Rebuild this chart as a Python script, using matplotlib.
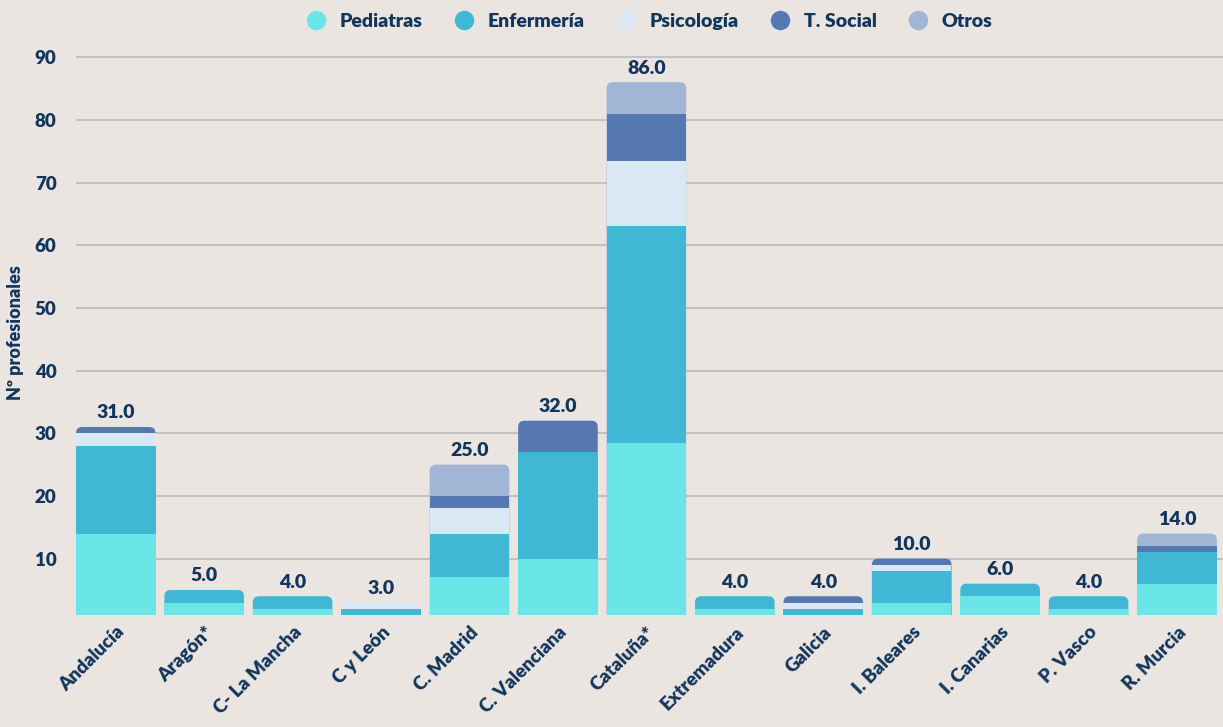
import numpy as np
import matplotlib.pyplot as plt
from matplotlib.patches import FancyBboxPatch
from matplotlib.lines import Line2D

# regions and values per professional group
regions = ["Andalucía", "Aragón*", "C- La Mancha", "C y León", "C. Madrid",
           "C. Valenciana", "Cataluña*", "Extremadura", "Galicia",
           "I. Baleares", "I. Canarias", "P. Vasco", "R. Murcia"]
pediatras  = [14, 3, 2, 0, 7, 10, 28.5, 2, 0, 3, 4, 2, 6]
enfermeria = [14, 2, 2, 2, 7, 17, 34.5, 2, 2, 5, 2, 2, 5]
psicologia = [2, 0, 0, 1, 4, 0, 10.5, 0, 1, 1, 0, 0, 0]
t_social   = [1, 0, 0, 0, 2, 5, 7.5, 0, 1, 1, 0, 0, 1]
otros      = [0, 0, 0, 0, 5, 0, 5, 0, 0, 0, 0, 0, 2]

series_names = ["Pediatras", "Enfermería", "Psicología", "T. Social", "Otros"]
colors = ["#6AE5E8", "#41B7D6", "#DAE8F6", "#5678B2", "#A1B5D4"]

BG = "#EAE5E0"
NAVY = "#12355B"
FONT = "Lato"
WEIGHT = "heavy"

data = np.array([pediatras, enfermeria, psicologia, t_social, otros], dtype=float)
totals = data.sum(axis=0)

fig = plt.figure(figsize=(12.23, 7.27), dpi=100, facecolor=BG)
ax = fig.add_axes([0.0621, 0.154, 0.9379, 0.776])
ax.set_facecolor(BG)

x = np.arange(len(regions))
width = 0.9

# rounded "shell" for each bar, coloured like its top segment
xr = 0.07            # corner radius in x data units
aspect = 14.0        # converts x radius to y units
top_of = [max(k for k in range(5) if data[k, i] > 0) for i in x]
for i in x:
    patch = FancyBboxPatch((i - width / 2, 0), width, totals[i],
                           boxstyle=f"round,pad=0,rounding_size={xr}",
                           mutation_aspect=aspect,
                           facecolor=colors[top_of[i]], edgecolor="none",
                           zorder=3)
    ax.add_patch(patch)

bottom = np.zeros(len(regions))
for k in range(5):
    vals = np.where(np.array(top_of) == k, 0, data[k])
    ax.bar(x, vals, width, bottom=bottom, color=colors[k], edgecolor="none",
           zorder=4)
    bottom += data[k]

for i in x:
    ax.text(i, totals[i] + 0.9, f"{totals[i]:.1f}", ha="center", va="bottom",
            fontsize=14, fontweight=WEIGHT, color=NAVY, family=FONT,
            zorder=5)

ax.set_ylim(1, 91)
ax.set_xlim(-0.45, 12.52)
ax.set_yticks(np.arange(10, 91, 10))
ax.yaxis.grid(True, color="#BFC0C0", linewidth=1.4, zorder=0)
ax.set_axisbelow(True)
for s in ax.spines.values():
    s.set_visible(False)
ax.tick_params(axis="both", length=0)
ax.tick_params(axis="y", pad=14)
ax.set_xticks(x)
ax.set_xticklabels(regions, rotation=45, ha="right", rotation_mode="anchor")
for lbl in ax.get_yticklabels() + ax.get_xticklabels():
    lbl.set_fontsize(13.5)
    lbl.set_fontweight(WEIGHT)
    lbl.set_color(NAVY)
    lbl.set_family(FONT)
ax.tick_params(axis="x", pad=6)

ax.set_ylabel("Nº profesionales", fontsize=13, fontweight=WEIGHT,
              color=NAVY, family=FONT, labelpad=8)

handles = [Line2D([0], [0], marker="o", linestyle="none", markersize=14,
                  markerfacecolor=c, markeredgecolor="none") for c in colors]
fig.legend(handles, series_names, loc="center", bbox_to_anchor=(0.527, 0.971),
           ncol=5, frameon=False, handletextpad=0.2, columnspacing=1.15,
           prop={"family": FONT, "weight": WEIGHT, "size": 14},
           labelcolor=NAVY)

fig.savefig("out.png", dpi=100, facecolor=BG)
